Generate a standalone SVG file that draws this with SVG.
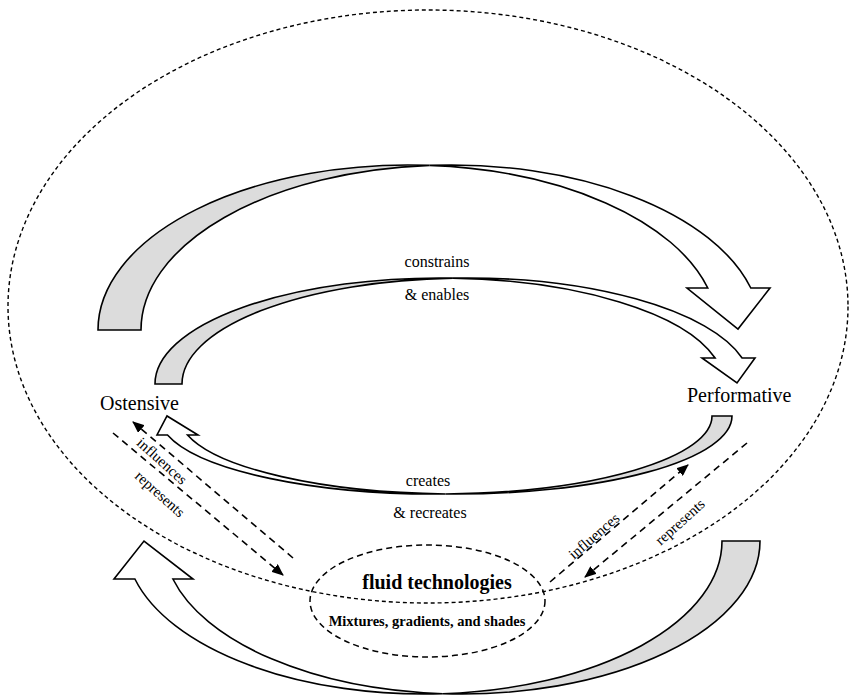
<svg xmlns="http://www.w3.org/2000/svg" width="849" height="696" viewBox="0 0 849 696">
<defs>
<style>
.back{fill:#dcdcdc;stroke:#000;stroke-width:1.6;stroke-linejoin:miter}
.front{fill:#fff;stroke:#000;stroke-width:1.6;stroke-linejoin:miter}
.bigdash{fill:none;stroke:#000;stroke-width:1.4;stroke-dasharray:4 3}
.dash{fill:none;stroke:#000;stroke-width:1.6;stroke-dasharray:7 5}
.lbl{font-family:"Liberation Serif","Times New Roman",serif;fill:#000}
</style>
<marker id="ah" viewBox="0 0 12 10" refX="11" refY="5" markerWidth="12" markerHeight="10" markerUnits="userSpaceOnUse" orient="auto">
<path d="M0,0 L12,5 L0,10 Z" fill="#000"/>
</marker>
</defs>
<rect width="849" height="696" fill="#fff"/>

<g id="context">
<ellipse class="bigdash" cx="428" cy="306.5" rx="420" ry="296.5"/>
</g>

<g id="arrow-top">
<path class="back" d="M98,330 A310,165 0 0 1 429.5,165.4 A310,165 0 0 0 141,330 Z"/>
<path class="front" d="M429.5,165.4 A310,165 0 0 1 750.8,288 L770,288 L738,329 L687,288 L707.8,288 A310,165 0 0 0 429.5,165.4 Z"/>
</g>

<g id="arrow-constrains">
<path class="back" d="M155,384 A284.4,106 0 0 1 452.9,278.1 A284.4,106 0 0 0 182,384 Z"/>
<path class="front" d="M452.9,278.1 A284.4,106 0 0 1 742.1,358 L755,358 L737,383 L702,358 L715.1,358 A284.4,106 0 0 0 452.9,278.1 Z"/>
</g>

<g id="arrow-creates">
<path class="back" d="M732,416 A276.4,78 0 0 1 445.6,493.95 A276.4,78 0 0 0 712,416 Z"/>
<path class="front" d="M445.6,493.95 A276.4,78 0 0 1 167.5,435 L157,435 L167,416 L198,435 L187.5,435 A276.4,78 0 0 0 445.6,493.95 Z"/>
</g>

<g id="arrow-bottom">
<path class="back" d="M760,541 A298.2,153 0 0 1 442.8,693.7 A298.2,153 0 0 0 722,541 Z"/>
<path class="front" d="M442.8,693.7 A298.2,153 0 0 1 134.9,579 L114,579 L144,541 L193,579 L172.9,579 A298.2,153 0 0 0 442.8,693.7 Z"/>
</g>

<g id="ostensive">
<text class="lbl" x="100" y="410" font-size="20">Ostensive</text>
</g>
<g id="performative">
<text class="lbl" x="687" y="402" font-size="20">Performative</text>
</g>

<g id="fluid-technologies">
<ellipse cx="427.5" cy="601" rx="117.5" ry="56" fill="none" stroke="#000" stroke-width="1.5" stroke-dasharray="6 4"/>
<text class="lbl" x="437" y="589" font-size="20" font-weight="bold" text-anchor="middle">fluid technologies</text>
<text class="lbl" x="427" y="626" font-size="14.5" font-weight="bold" text-anchor="middle">Mixtures, gradients, and shades</text>
</g>

<g id="connectors">
<line class="dash" x1="293" y1="558" x2="133" y2="422" marker-end="url(#ah)"/>
<line class="dash" x1="113" y1="433" x2="283" y2="575" marker-end="url(#ah)"/>
<line class="dash" x1="550" y1="582" x2="688" y2="465" marker-end="url(#ah)"/>
<line class="dash" x1="747" y1="443" x2="585" y2="577" marker-end="url(#ah)"/>
</g>

<g id="labels">
<text class="lbl" x="437" y="267" font-size="16" text-anchor="middle">constrains</text>
<text class="lbl" x="437" y="300" font-size="16" text-anchor="middle">&amp; enables</text>
<text class="lbl" x="428" y="486" font-size="16" text-anchor="middle">creates</text>
<text class="lbl" x="430" y="518" font-size="16" text-anchor="middle">&amp; recreates</text>
<text class="lbl" font-size="15" text-anchor="middle" transform="translate(162,461) rotate(42)" y="5">influences</text>
<text class="lbl" font-size="15" text-anchor="middle" transform="translate(160,494) rotate(42)" y="5">represents</text>
<text class="lbl" font-size="15" text-anchor="middle" transform="translate(594,536) rotate(-41)" y="5">influences</text>
<text class="lbl" font-size="15" text-anchor="middle" transform="translate(680,522) rotate(-42)" y="5">represents</text>
</g>
</svg>
